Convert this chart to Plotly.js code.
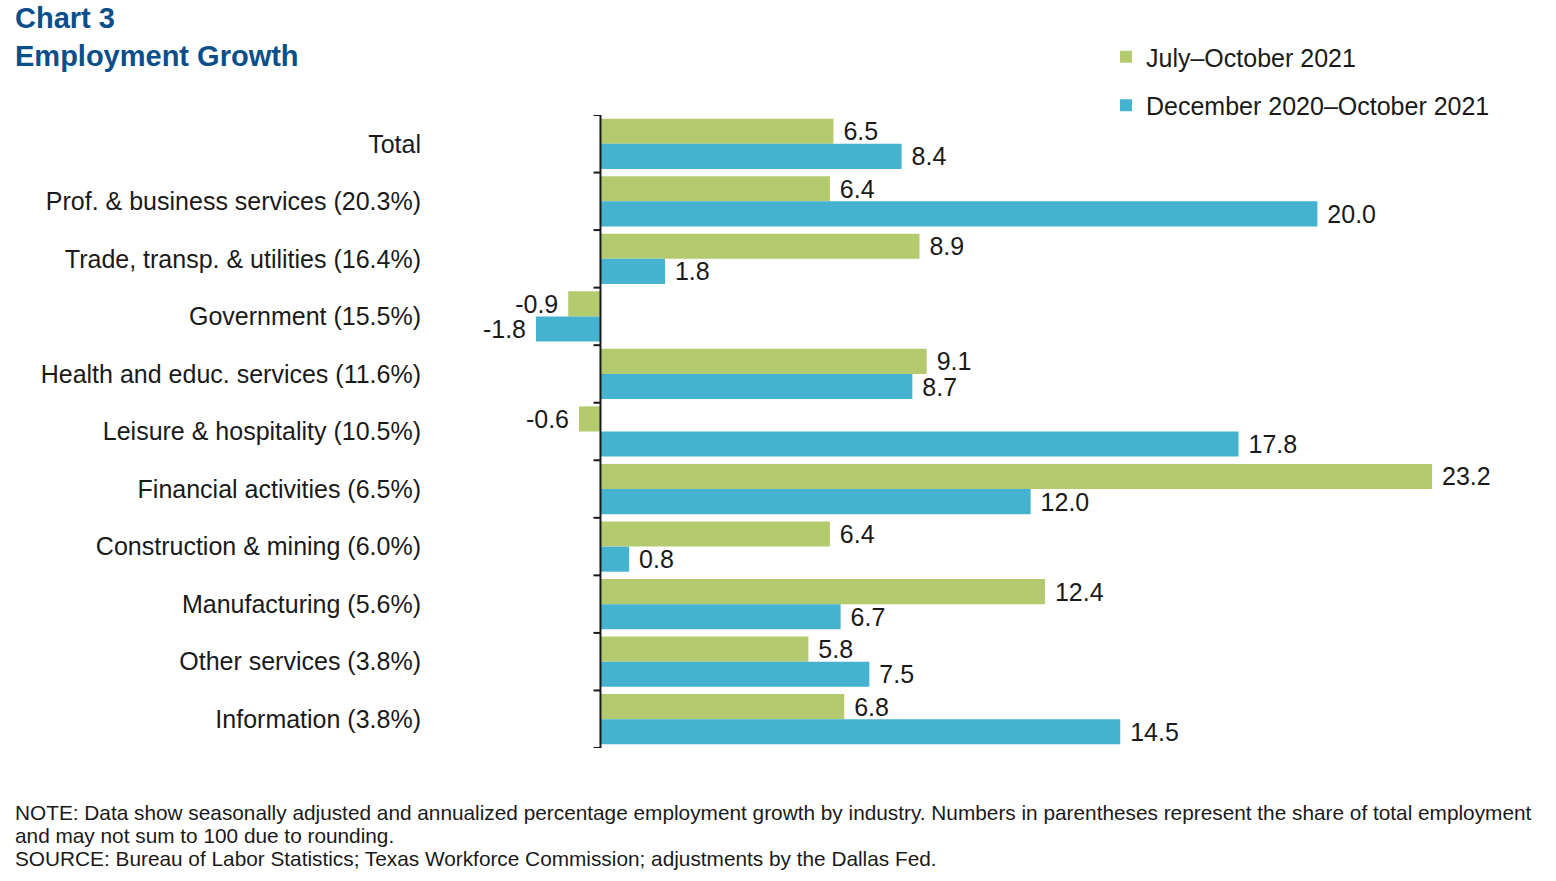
<!DOCTYPE html>
<html>
<head>
<meta charset="utf-8">
<script src="https://cdn.plot.ly/plotly-3.0.1.min.js"></script>
<style>html,body{margin:0;padding:0;background:#fff;}#chart{width:1556px;height:881px;}</style>
</head>
<body>
<div id="chart"></div>
<script>
const categories = [
  "Total",
  "Prof. & business services (20.3%)",
  "Trade, transp. & utilities (16.4%)",
  "Government (15.5%)",
  "Health and educ. services (11.6%)",
  "Leisure & hospitality (10.5%)",
  "Financial activities (6.5%)",
  "Construction & mining (6.0%)",
  "Manufacturing (5.6%)",
  "Other services (3.8%)",
  "Information (3.8%)"
];
const seriesNames = ["July\u2013October 2021", "December 2020\u2013October 2021"];
const julOct = [6.5, 6.4, 8.9, -0.9, 9.1, -0.6, 23.2, 6.4, 12.4, 5.8, 6.8];
const decOct = [8.4, 20.0, 1.8, -1.8, 8.7, 17.8, 12.0, 0.8, 6.7, 7.5, 14.5];
const titleLines = ["Chart 3", "Employment Growth"];
const noteLines = [
  "NOTE: Data show seasonally adjusted and annualized percentage employment growth by industry. Numbers in parentheses represent the share of total employment",
  "and may not sum to 100 due to rounding.",
  "SOURCE: Bureau of Labor Statistics; Texas Workforce Commission; adjustments by the Dallas Fed."
];

const FONT = "Liberation Sans, Arial, sans-serif";
const GREEN = "#b3cb6e";
const BLUE = "#45b3cf";
const INK = "#1a1a1a";

function labels(vals) {
  return vals.map(v => v < 0 ? v.toFixed(1) + "\u00a0" : "\u00a0" + v.toFixed(1));
}

const traces = [
  {type: "bar", orientation: "h", name: seriesNames[0], y: categories, x: julOct,
   marker: {color: GREEN}, text: labels(julOct), textposition: "outside",
   textfont: {family: FONT, size: 25, color: INK}, cliponaxis: false,
   constraintext: "none", legendgroup: "a", hoverinfo: "x+y"},
  {type: "bar", orientation: "h", name: seriesNames[1], y: categories, x: decOct,
   marker: {color: BLUE}, text: labels(decOct), textposition: "outside",
   textfont: {family: FONT, size: 25, color: INK}, cliponaxis: false,
   constraintext: "none", legendgroup: "b", hoverinfo: "x+y"}
];

const shapes = [];
for (let i = 0; i <= categories.length; i++) {
  shapes.push({type: "line", layer: "above", xref: "x", yref: "y",
    xsizemode: "pixel", xanchor: 0, x0: -7, x1: 0, y0: i - 0.5, y1: i - 0.5,
    line: {color: INK, width: 2}});
}
shapes.push({type: "line", layer: "above", xref: "x", yref: "y",
  x0: 0, x1: 0, y0: -0.5, y1: categories.length - 0.5,
  line: {color: INK, width: 2}});

const L = 430, R = 16, T = 115, B = 133, W = 1556, H = 881;
const plotW = W - L - R, plotH = H - T - B;
const pxToX = px => (px - L) / plotW;
const pxToY = py => (H - B - py) / plotH;

const annotations = noteLines.map((t, i) => ({
  text: t, xref: "paper", yref: "paper", x: pxToX(13), y: pxToY([812, 835, 858][i]),
  xanchor: "left", yanchor: "middle", showarrow: false, align: "left",
  font: {family: FONT, size: 20.8, color: INK}
}));

const layout = {
  width: W, height: H,
  margin: {l: L, r: R, t: T, b: B, autoexpand: false},
  paper_bgcolor: "#fff", plot_bgcolor: "#fff",
  font: {family: FONT, size: 25, color: INK},
  title: {text: "<b>" + titleLines.join("<br>") + "</b>",
    x: 15 / W, xanchor: "left", xref: "container",
    y: 1 - 28 / H, yanchor: "top", yref: "container",
    font: {family: FONT, size: 29, color: "#0b4f8a"}},
  barmode: "group", bargap: 0.127, bargroupgap: 0,
  xaxis: {range: [-4.756, 26.21], showticklabels: false, showgrid: false,
    zeroline: false, showline: false, ticks: "", fixedrange: true},
  yaxis: {type: "category", range: [categories.length - 0.5, -0.5],
    showgrid: false, zeroline: false, showline: false, ticks: "",
    ticklabelstandoff: 8, tickfont: {family: FONT, size: 25, color: INK}, fixedrange: true},
  showlegend: true,
  legend: {x: pxToX(1106), xanchor: "left", y: 1 - 34 / H, yref: "container", yanchor: "top",
    traceorder: "grouped", tracegroupgap: 13, bgcolor: "rgba(0,0,0,0)",
    font: {family: FONT, size: 25, color: INK}},
  shapes: shapes,
  annotations: annotations
};

Plotly.newPlot("chart", traces, layout, {displayModeBar: false, staticPlot: true});
</script>
</body>
</html>
